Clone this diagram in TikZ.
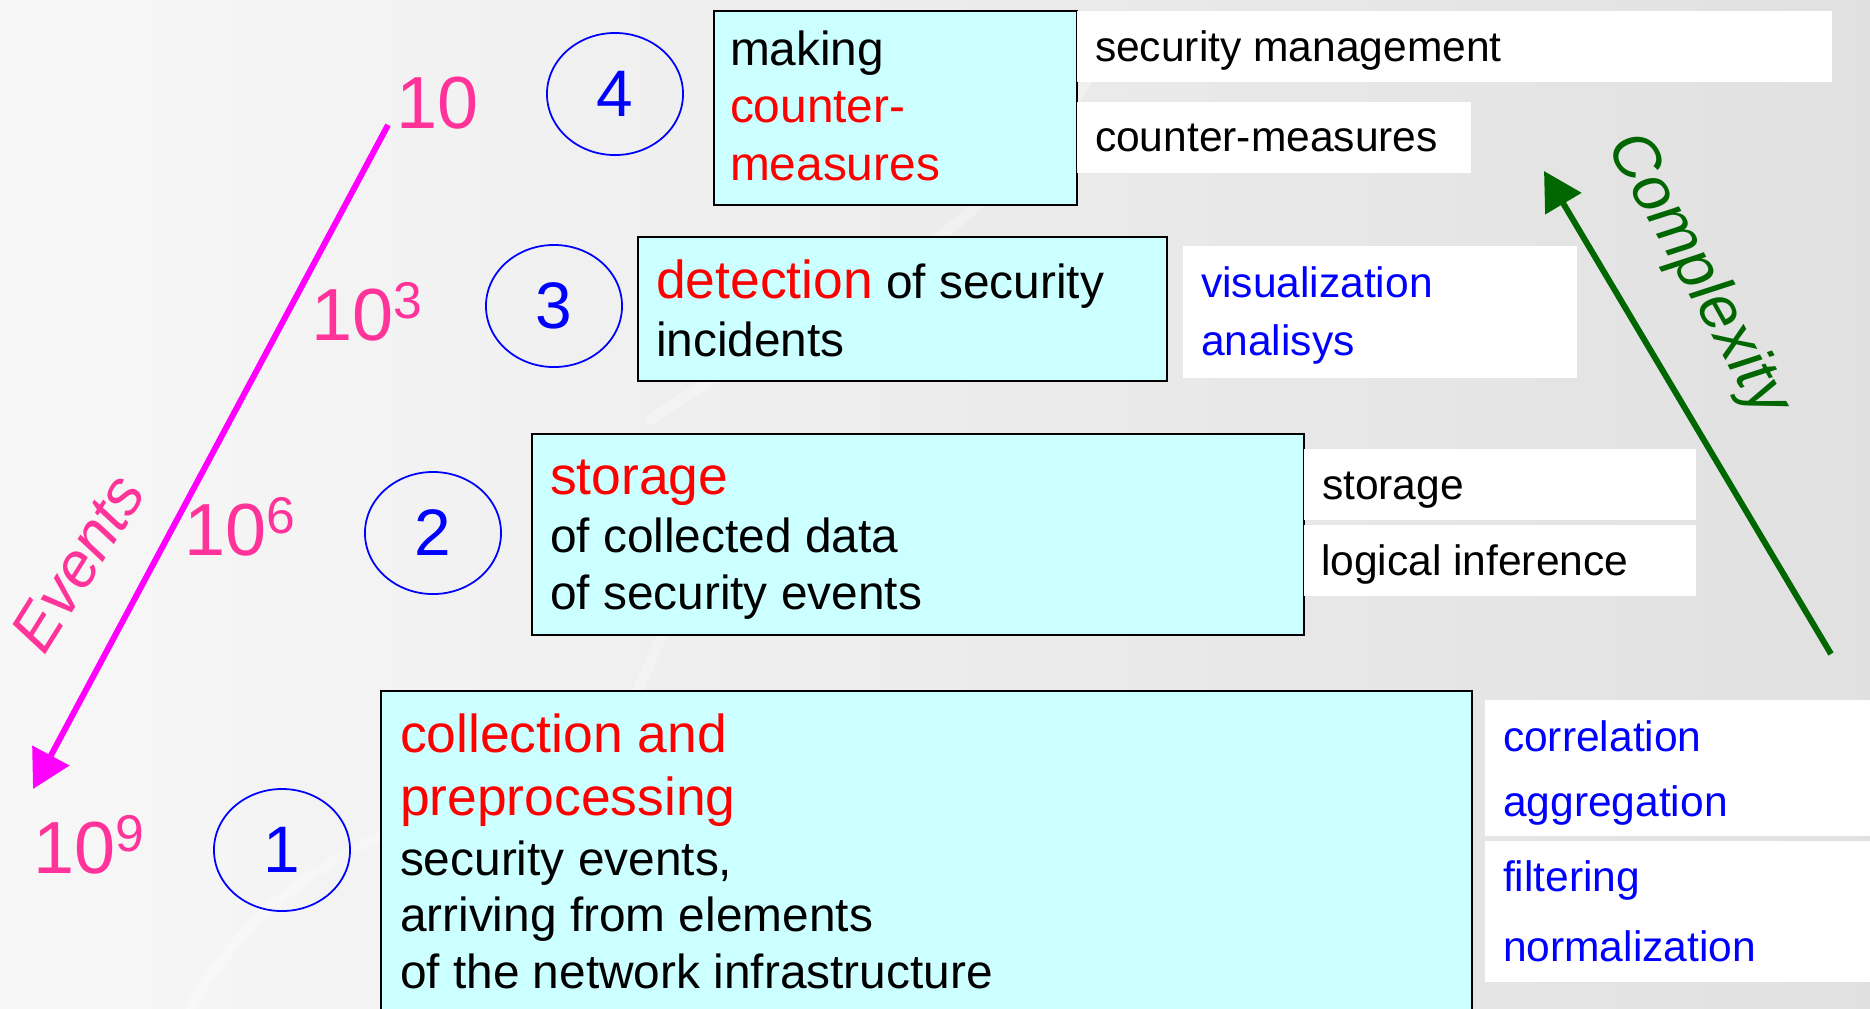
\documentclass[tikz,border=0pt]{standalone}
\usepackage{fontspec}
\setmainfont{Liberation Sans}
\usetikzlibrary{arrows.meta,shapes.geometric}

\definecolor{layerfill}{HTML}{CCFFFF}
\definecolor{hotred}{HTML}{FF0000}
\definecolor{deepblue}{HTML}{0000FF}
\definecolor{rosepink}{HTML}{FF3399}
\definecolor{vividmagenta}{HTML}{FF00FF}
\definecolor{forestgreen}{HTML}{006600}

% font sizes
\newcommand\szNote{\fontsize{12.1}{14}\selectfont}
\newcommand\szBody{\fontsize{13.6}{16}\selectfont}
\newcommand\szHead{\fontsize{15.2}{18}\selectfont}
\newcommand\szMag{\fontsize{21}{24}\selectfont}
\newcommand\szExp{\fontsize{14.7}{16}\selectfont}
\newcommand\szStep{\fontsize{18.7}{20}\selectfont}
\newcommand\expo[1]{\raisebox{6pt}{\szExp #1}}

\begin{document}
\begin{tikzpicture}[x=0.01cm, y=-0.01cm,
  layer/.style={draw=black, line width=0.55pt, fill=layerfill, rectangle,
                inner sep=0pt, anchor=north west},
  note/.style={fill=white, rectangle, inner sep=0pt, anchor=north west},
  txtline/.style={anchor=base west, inner sep=0pt, outer sep=0pt},
  body/.style={txtline, font=\szBody, text=black},
  head/.style={txtline, font=\szHead, text=hotred},
  notetxt/.style={txtline, font=\szNote, text=black},
  noteblue/.style={txtline, font=\szNote, text=deepblue},
  stepmark/.style={ellipse, draw=deepblue, line width=0.5pt,
                   minimum width=1.36cm, minimum height=1.22cm,
                   inner sep=0pt, font=\szStep, text=deepblue},
  magnitude/.style={txtline, font=\szMag, text=rosepink},
  axis/.style={line width=1.7pt, -{Triangle[length=10.8pt,width=11.6pt]}},
]

% background
\path[left color=white!97!black, right color=white!88!black]
  (0,0) rectangle (1870,1008);
\useasboundingbox (0,0) rectangle (1870,1008);
\begin{scope}[white, line width=3pt, opacity=0.3, line cap=round]
  \draw (1110,40) .. controls (1010,240) and (780,330) .. (650,420);
  \draw (700,560) .. controls (650,650) and (610,760) .. (570,860);
  \draw (190,1008) .. controls (250,900) and (360,830) .. (470,805);
\end{scope}

% layers
\node[layer, minimum width=3.63cm, minimum height=1.94cm]  (b4) at (713,10)  {};
\node[layer, minimum width=5.29cm, minimum height=1.44cm]  (b3) at (637,236) {};
\node[layer, minimum width=7.72cm, minimum height=2.01cm]  (b2) at (531,433) {};
\node[layer, minimum width=10.90cm, minimum height=3.40cm] (b1) at (380,690) {};

\node[body] (b4a) at (730,65) {making};
\node[body, text=hotred] (b4b) at (730,122) {counter-};
\node[body, text=hotred] (b4c) at (730,180) {measures};

\node[body] (b3a) at (656,298)
  {\textcolor{hotred}{\szHead detection}\ of security};
\node[body] (b3b) at (656,356) {incidents};

\node[head] (b2a) at (550,494) {storage};
\node[body] (b2b) at (550,552) {of collected data};
\node[body] (b2c) at (550,609) {of security events};

\node[head] (b1a) at (400,752) {collection and};
\node[head] (b1b) at (400,815) {preprocessing};
\node[body] (b1c) at (400,875) {security events,};
\node[body] (b1d) at (400,931) {arriving from elements};
\node[body] (b1e) at (400,988) {of the network infrastructure};

% side notes
\node[note, minimum width=7.55cm, minimum height=0.71cm] (w1) at (1076,10)  {};
\node[note, minimum width=3.94cm, minimum height=0.71cm] (w2) at (1076,101) {};
\node[note, minimum width=3.94cm, minimum height=1.32cm] (w3) at (1182,245) {};
\node[note, minimum width=3.92cm, minimum height=0.71cm] (w4) at (1303,448) {};
\node[note, minimum width=3.92cm, minimum height=0.71cm] (w5) at (1303,524) {};
\node[note, minimum width=4.00cm, minimum height=1.36cm] (w6) at (1484,699) {};
\node[note, minimum width=4.00cm, minimum height=1.41cm] (w7) at (1484,840) {};

\node[notetxt]  (w1a) at (1095,61)  {security management};
\node[notetxt]  (w2a) at (1095,151) {counter-measures};
\node[noteblue] (w3a) at (1201,297) {visualization};
\node[noteblue] (w3b) at (1201,355) {analisys};
\node[notetxt]  (w4a) at (1322,499) {storage};
\node[notetxt]  (w5a) at (1321,575) {logical inference};
\node[noteblue] (w6a) at (1503,751) {correlation};
\node[noteblue] (w6b) at (1503,816) {aggregation};
\node[noteblue] (w7a) at (1503,891) {filtering};
\node[noteblue] (w7b) at (1503,961) {normalization};

% step numbers
\node[stepmark] (s4) at (615,94)  {4};
\node[stepmark] (s3) at (554,306) {3};
\node[stepmark] (s2) at (433,533) {2};
\node[stepmark] (s1) at (282,850) {1};

% event counts
\node[magnitude] (m1) at (396,128) {10};
\node[magnitude] (m3) at (311,340) {10\expo{3}};
\node[magnitude] (m6) at (184,555) {10\expo{6}};
\node[magnitude] (m9) at (33,873)  {10\expo{9}};

% axes
\coordinate (evtop) at (388,125);
\coordinate (evtip) at (33,789);
\draw[axis, vividmagenta] (evtop) -- (evtip);
\node[font=\fontsize{18}{20}\selectfont\itshape, text=rosepink, rotate=58,
      inner sep=0pt] (evlabel) at (78,563) {Events};

\coordinate (cxfoot) at (1831,654);
\coordinate (cxtip) at (1544,171);
\draw[axis, forestgreen] (cxfoot) -- (cxtip);
\node[font=\fontsize{18}{20}\selectfont\itshape, text=forestgreen, rotate=-61,
      inner sep=0pt] (cxlabel) at (1697,275) {Complexity};

\end{tikzpicture}
\end{document}
